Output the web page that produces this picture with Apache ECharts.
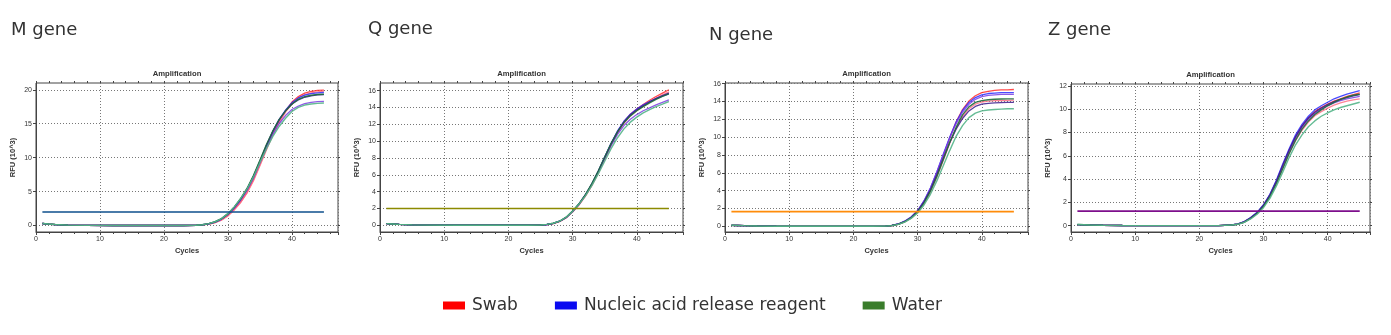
<!DOCTYPE html>
<html>
<head>
<meta charset="utf-8">
<script src="https://cdn.jsdelivr.net/npm/echarts@6/dist/echarts.min.js"></script>
<style>
html,body{margin:0;padding:0;background:#ffffff;}
#chart{width:1391px;height:335px;}
</style>
</head>
<body>
<div id="chart"></div>
<script>
// Cycle numbers where the fluorescence was sampled for drawing
const CYCLES = [1,2,3,5,8,12,16,20,23,25,26,27,28,29,30,31,32,33,34,35,36,37,38,39,40,41,42,43,44,45];

const GENES = ['M gene', 'Q gene', 'N gene', 'Z gene'];
const THRESHOLDS = [2.0, 2.0, 1.65, 1.25];
const THRESHOLD_COLORS = ['#0e4f8c', '#8c8a00', '#ff8c0a', '#7e0f8c'];
const X_TICKS = [0, 10, 20, 30, 40];
const Y_TICKS = [
  [0, 5, 10, 15, 20],
  [0, 2, 4, 6, 8, 10, 12, 14, 16],
  [0, 2, 4, 6, 8, 10, 12, 14, 16],
  [0, 2, 4, 6, 8, 10, 12]
];
const Y_RANGES = [[-0.95, 21], [-0.8, 16.9], [-0.63, 16.08], [-0.54, 12.17]];
const X_MAX = [47.2, 47.2, 47.2, 46.6];

// Baseline readings (cycles 1..25) per gene
const M_BASE = [0.30,0.22,0.15,0.07,0.03,0.01,0.01,0.01,0.01,0.04];
const Q_BASE = [0.20,0.15,0.10,0.05,0.02,0.01,0.01,0.01,0.01,0.03];
const N_BASE = [0.12,0.10,0.08,0.05,0.02,0.01,0.01,0.01,0.01,0.03];
const Z_BASE = [0.10,0.08,0.06,0.04,0.02,0.01,0.01,0.01,0.01,0.06];

// Amplification readings, cycles 26..45 (RFU x 10^3)
const M_SWAB = [
  [0.10,0.22,0.45,0.85,1.50,2.40,3.50,4.90,6.80,9.00,11.3,13.5,15.3,16.9,18.2,19.0,19.5,19.75,19.9,19.95],
  [0.09,0.20,0.42,0.80,1.40,2.30,3.40,4.80,6.60,8.80,11.1,13.3,15.1,16.7,17.9,18.8,19.3,19.55,19.7,19.8]
];
const M_REAGENT = [
  [0.11,0.25,0.50,0.95,1.65,2.60,3.80,5.30,7.20,9.40,11.7,13.8,15.6,17.0,18.1,18.8,19.2,19.45,19.55,19.6],
  [0.11,0.25,0.50,0.95,1.65,2.60,3.80,5.20,7.00,9.20,11.4,13.4,15.0,16.2,17.1,17.6,17.95,18.15,18.25,18.3],
  [0.12,0.27,0.55,1.00,1.70,2.70,3.90,5.40,7.30,9.50,11.8,13.9,15.6,16.9,17.9,18.5,18.9,19.1,19.25,19.3]
];
const M_WATER = [
  [0.12,0.28,0.56,1.02,1.75,2.75,4.00,5.50,7.40,9.60,11.9,13.9,15.6,16.9,17.9,18.6,19.0,19.2,19.3,19.35],
  [0.12,0.28,0.56,1.02,1.75,2.75,4.00,5.40,7.20,9.30,11.3,13.1,14.6,15.8,16.8,17.4,17.75,17.9,18.0,18.05]
];

const Q_SWAB = [
  [0.08,0.20,0.45,0.90,1.60,2.45,3.50,4.75,6.25,7.90,9.60,11.1,12.3,13.2,13.8,14.35,14.85,15.3,15.7,16.1],
  [0.08,0.20,0.44,0.88,1.56,2.40,3.45,4.70,6.20,7.80,9.50,10.95,12.1,13.0,13.6,14.15,14.65,15.1,15.5,15.85]
];
const Q_REAGENT = [
  [0.09,0.22,0.48,0.93,1.65,2.50,3.60,4.90,6.40,8.10,9.75,11.2,12.35,13.2,13.8,14.3,14.7,15.05,15.35,15.6],
  [0.09,0.22,0.48,0.93,1.65,2.50,3.60,4.85,6.30,7.90,9.45,10.8,11.85,12.6,13.15,13.6,13.95,14.3,14.6,14.9],
  [0.09,0.22,0.48,0.93,1.65,2.50,3.60,4.90,6.40,8.05,9.70,11.1,12.25,13.1,13.7,14.2,14.65,15.05,15.4,15.7]
];
const Q_WATER = [
  [0.10,0.24,0.50,0.96,1.70,2.55,3.65,4.95,6.45,8.10,9.70,11.1,12.2,13.0,13.6,14.1,14.55,14.95,15.3,15.6],
  [0.10,0.24,0.50,0.95,1.65,2.50,3.50,4.70,6.10,7.60,9.10,10.4,11.45,12.25,12.85,13.35,13.75,14.1,14.4,14.7]
];

const N_SWAB = [
  [0.10,0.25,0.55,1.00,1.65,2.70,4.10,5.90,7.90,9.90,11.7,13.1,14.05,14.65,15.0,15.15,15.25,15.3,15.32,15.35],
  [0.09,0.22,0.50,0.92,1.55,2.50,3.80,5.50,7.40,9.30,11.0,12.3,13.2,13.7,13.95,14.05,14.1,14.12,14.14,14.15]
];
const N_REAGENT = [
  [0.11,0.27,0.58,1.05,1.75,2.85,4.30,6.10,8.10,10.0,11.7,13.0,13.9,14.45,14.75,14.9,14.95,15.0,15.0,15.0],
  [0.11,0.27,0.58,1.05,1.75,2.85,4.30,6.10,8.00,9.90,11.5,12.8,13.7,14.25,14.55,14.7,14.75,14.8,14.8,14.8],
  [0.10,0.25,0.55,1.00,1.70,2.75,4.10,5.80,7.60,9.40,10.9,12.1,12.95,13.45,13.7,13.8,13.85,13.88,13.9,13.9]
];
const N_WATER = [
  [0.10,0.24,0.52,0.96,1.60,2.60,3.95,5.60,7.50,9.40,11.1,12.5,13.4,13.9,14.1,14.2,14.25,14.28,14.3,14.3],
  [0.09,0.22,0.48,0.90,1.50,2.40,3.60,5.10,6.80,8.50,10.1,11.3,12.2,12.7,12.95,13.05,13.1,13.15,13.2,13.2]
];

const Z_SWAB = [
  [0.14,0.33,0.66,1.10,1.72,2.60,3.75,5.10,6.45,7.60,8.55,9.25,9.80,10.15,10.45,10.7,10.9,11.1,11.25,11.4],
  [0.13,0.31,0.63,1.05,1.65,2.50,3.60,4.90,6.20,7.30,8.20,8.90,9.45,9.80,10.1,10.35,10.55,10.7,10.8,10.9]
];
const Z_REAGENT = [
  [0.15,0.35,0.70,1.15,1.80,2.70,3.90,5.30,6.60,7.80,8.70,9.40,9.95,10.3,10.6,10.9,11.1,11.3,11.45,11.6],
  [0.14,0.33,0.66,1.10,1.72,2.60,3.75,5.10,6.40,7.55,8.45,9.15,9.65,10.0,10.3,10.55,10.75,10.9,11.0,11.1],
  [0.14,0.34,0.68,1.12,1.76,2.65,3.82,5.20,6.50,7.65,8.55,9.25,9.75,10.1,10.4,10.65,10.85,11.0,11.15,11.25]
];
const Z_WATER = [
  [0.13,0.30,0.62,1.05,1.65,2.50,3.60,4.90,6.20,7.35,8.30,9.00,9.55,9.95,10.3,10.6,10.85,11.05,11.2,11.3],
  [0.12,0.28,0.58,0.98,1.55,2.35,3.40,4.60,5.85,6.95,7.80,8.50,9.00,9.40,9.70,9.95,10.15,10.3,10.45,10.6]
];

const BASES = [M_BASE, Q_BASE, N_BASE, Z_BASE];
const SWAB = [M_SWAB, Q_SWAB, N_SWAB, Z_SWAB];
const REAGENT = [M_REAGENT, Q_REAGENT, N_REAGENT, Z_REAGENT];
const WATER = [M_WATER, Q_WATER, N_WATER, Z_WATER];

const SWAB_COLORS = ['#ff2a2a', '#ff6f86'];
const REAGENT_COLORS = ['#2a2aff', '#7a3ee0', '#3b1a8c'];
const WATER_COLORS = ['#1d6b3c', '#55b58a'];

const LEGEND_NAMES = ['Swab', 'Nucleic acid release reagent', 'Water'];
const LEGEND_COLORS = ['#ff0000', '#0a0af0', '#3a7d2b'];

// Layout of the four plots
const GRIDS = [
  { left: 36, top: 83, width: 302, height: 149 },
  { left: 380, top: 83, width: 303, height: 149 },
  { left: 725, top: 83, width: 303, height: 149 },
  { left: 1071, top: 84, width: 299, height: 148 }
];
const GENE_TITLE_POS = [[11, 30], [368, 29], [709, 35], [1048, 30]];

const textColor = '#333';
const axisDark = '#444';

function curve(base, rise) {
  const vals = base.concat(rise);
  return CYCLES.map((c, i) => [c, vals[i]]);
}

const grid = [], xAxis = [], yAxis = [], series = [], graphic = [];

GRIDS.forEach((g, i) => {
  grid.push(Object.assign({ show: true, borderColor: axisDark, borderWidth: 1 }, g));

  // bottom (labelled) x axis and left (labelled) y axis
  xAxis.push({
    type: 'value', gridIndex: i, min: 0, max: X_MAX[i], interval: 10,
    axisLine: { onZero: false, lineStyle: { color: axisDark, width: 1 } },
    axisTick: { show: true, length: 3, lineStyle: { color: axisDark } },
    minorTick: { show: true, splitNumber: 5, length: 2, lineStyle: { color: axisDark } },
    axisLabel: { fontSize: 7, color: textColor, margin: 4, fontFamily: 'Liberation Sans',
                 customValues: X_TICKS },
    splitLine: { show: true, lineStyle: { color: '#777', type: [1, 2], width: 1 } },
    name: 'Cycles', nameLocation: 'middle', nameGap: 15,
    nameTextStyle: { fontSize: 7.5, fontWeight: 'bold', color: textColor, fontFamily: 'Liberation Sans' }
  });
  yAxis.push({
    type: 'value', gridIndex: i, min: Y_RANGES[i][0], max: Y_RANGES[i][1],
    axisLine: { onZero: false, lineStyle: { color: axisDark, width: 1 } },
    axisTick: { show: true, length: 3, lineStyle: { color: axisDark }, customValues: Y_TICKS[i] },
    axisLabel: { fontSize: 7, color: textColor, margin: 4, fontFamily: 'Liberation Sans', customValues: Y_TICKS[i] },
    splitLine: { show: true, lineStyle: { color: '#777', type: [1, 2], width: 1 } },
    name: 'RFU (10^3)', nameLocation: 'middle', nameGap: 19,
    nameTextStyle: { fontSize: 7.5, fontWeight: 'bold', color: textColor, fontFamily: 'Liberation Sans' }
  });
});

// mirrored tick marks on the top and right edges of each plot
GRIDS.forEach((g, i) => {
  xAxis.push({
    type: 'value', gridIndex: i, position: 'top', min: 0, max: X_MAX[i], interval: 10,
    axisLine: { show: false, onZero: false }, axisLabel: { show: false }, splitLine: { show: false },
    axisTick: { show: true, length: 2, lineStyle: { color: axisDark } },
    minorTick: { show: true, splitNumber: 5, length: 2, lineStyle: { color: axisDark } }
  });
  yAxis.push({
    type: 'value', gridIndex: i, position: 'right', min: Y_RANGES[i][0], max: Y_RANGES[i][1],
    axisLine: { show: false, onZero: false }, axisLabel: { show: false }, splitLine: { show: false },
    axisTick: { show: true, length: 2, lineStyle: { color: axisDark }, customValues: Y_TICKS[i] }
  });
});

GRIDS.forEach((g, i) => {
  const lineBase = { type: 'line', xAxisIndex: i, yAxisIndex: i, showSymbol: false, smooth: false,
                     silent: true, animation: false, z: 10 };

  SWAB[i].forEach((rise, k) => series.push(Object.assign({}, lineBase, {
    name: LEGEND_NAMES[0], color: SWAB_COLORS[k % SWAB_COLORS.length],
    lineStyle: { width: 1.3, opacity: 0.85 }, data: curve(BASES[i], rise)
  })));
  REAGENT[i].forEach((rise, k) => series.push(Object.assign({}, lineBase, {
    name: LEGEND_NAMES[1], color: REAGENT_COLORS[k % REAGENT_COLORS.length],
    lineStyle: { width: 1.3, opacity: 0.85 }, data: curve(BASES[i], rise)
  })));
  WATER[i].forEach((rise, k) => series.push(Object.assign({}, lineBase, {
    name: LEGEND_NAMES[2], color: WATER_COLORS[k % WATER_COLORS.length],
    lineStyle: { width: 1.4, opacity: 0.9 }, data: curve(BASES[i], rise)
  })));

  // threshold line
  series.push(Object.assign({}, lineBase, {
    name: 'threshold-' + i, color: THRESHOLD_COLORS[i],
    lineStyle: { width: 1.6 }, z: 11,
    data: [[1, THRESHOLDS[i]], [45, THRESHOLDS[i]]]
  }));

  // plot heading
  graphic.push({
    type: 'text', x: g.left + g.width / 2 - 10, y: g.top - 9,
    style: { text: 'Amplification', fill: textColor, align: 'center', verticalAlign: 'middle',
             font: 'bold 7.7px "Liberation Sans"' }
  });
  // gene label
  graphic.push({
    type: 'text', x: GENE_TITLE_POS[i][0], y: GENE_TITLE_POS[i][1],
    style: { text: GENES[i], fill: '#333', align: 'left', verticalAlign: 'middle',
             font: '18px "DejaVu Sans"' }
  });
});

const chart = echarts.init(document.getElementById('chart'), null, { renderer: 'canvas' });
chart.setOption({
  animation: false,
  backgroundColor: '#ffffff',
  grid, xAxis, yAxis, series, graphic,
  legend: {
    left: 443, top: 297, padding: 0, itemWidth: 22, itemHeight: 8, itemGap: 37,
    icon: 'rect', selectedMode: false,
    data: LEGEND_NAMES.map((n, k) => ({ name: n, itemStyle: { color: LEGEND_COLORS[k] } })),
    textStyle: { fontSize: 17, color: '#333', fontFamily: 'DejaVu Sans', padding: [0, 0, 0, 2] }
  }
});
</script>
</body>
</html>
